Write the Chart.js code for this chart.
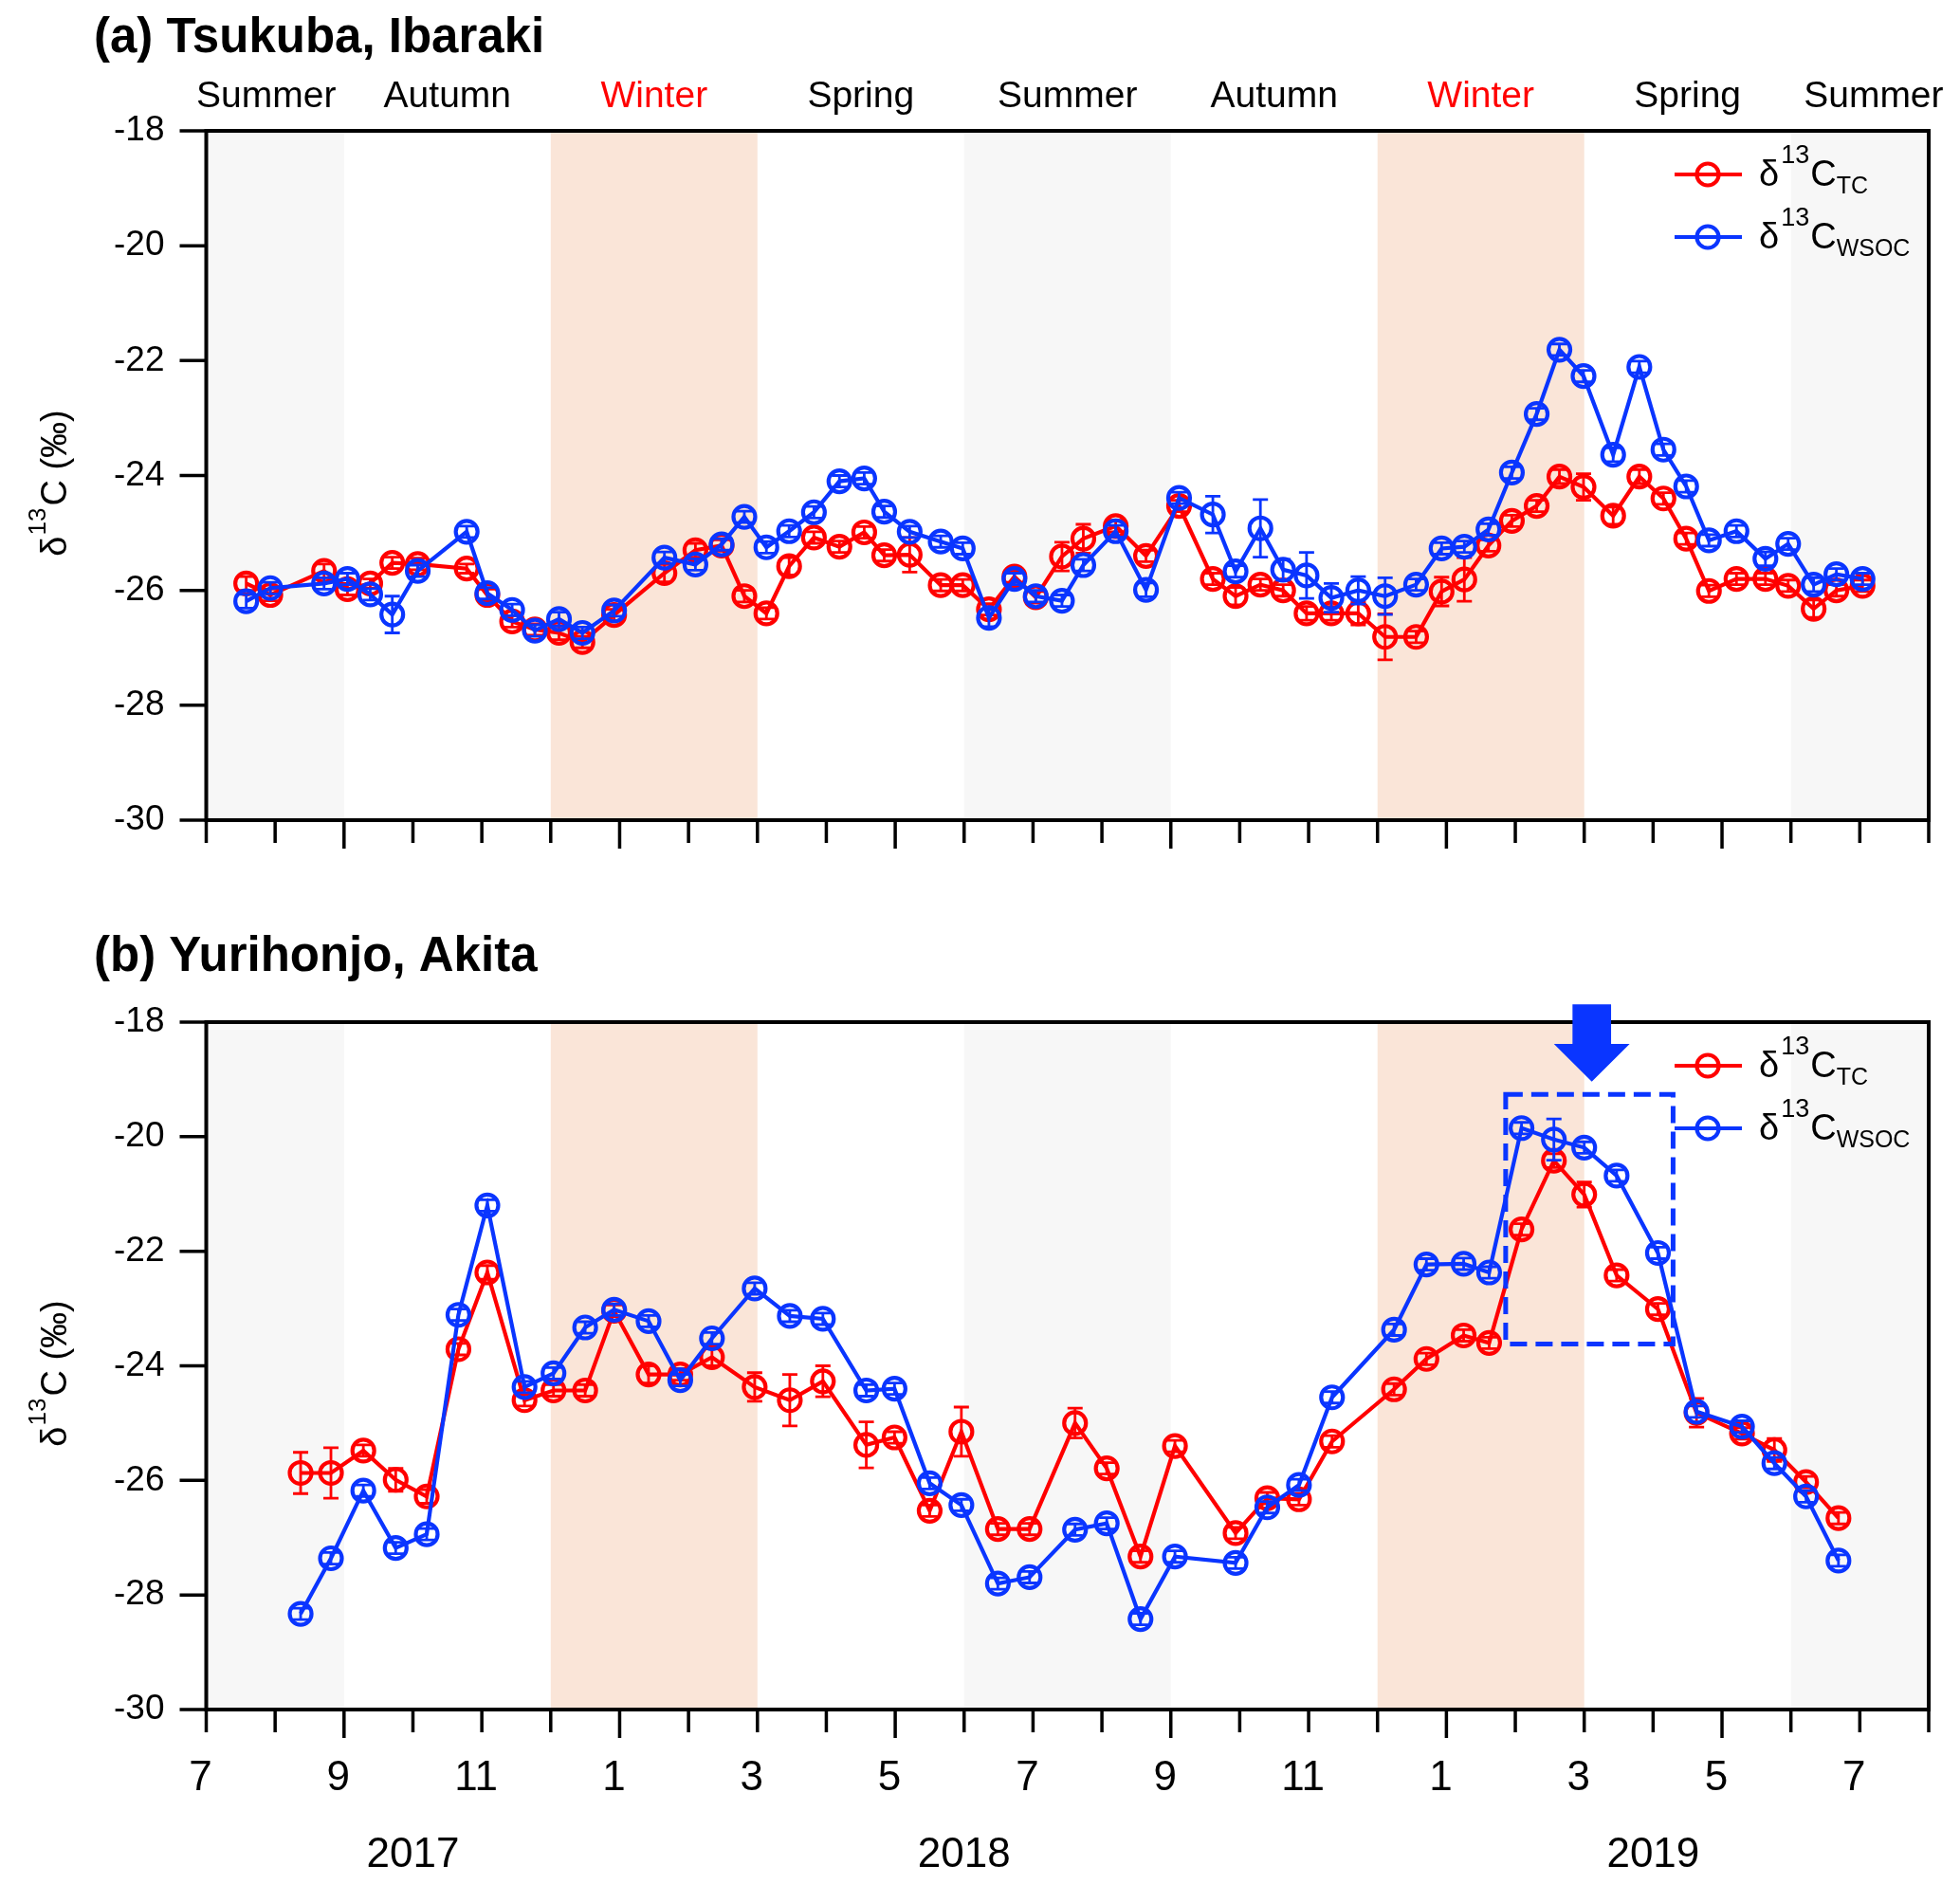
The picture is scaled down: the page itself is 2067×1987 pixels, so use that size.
<!DOCTYPE html>
<html>
<head>
<meta charset="utf-8">
<script src="https://cdn.jsdelivr.net/npm/chart.js@4.4.1/dist/chart.umd.min.js"></script>
<style>
html,body{margin:0;padding:0;background:#fff;}
#wrap{position:relative;width:2067px;height:1987px;background:#fff;}
canvas{position:absolute;left:0;}
#ca{top:0;}
#cb{top:940px;}
</style>
</head>
<body>
<div id="wrap">
<canvas id="ca" width="2067" height="940"></canvas>
<canvas id="cb" width="2067" height="1047"></canvas>
</div>
<script>
// ---------------- data ----------------
// x values are months counted from 1 July 2017 (0 = Jul 2017, 25 = Aug 2019)
const monthTickLabels = ['7','','9','','11','','1','','3','','5','','7','','9','','11','','1','','3','','5','','7',''];
const majorTickMonths = [2, 6, 10, 14, 18, 22];
const yearLabels = ['2017', '2018', '2019'];
const yearPositions = [3, 11, 21];

const seasonNames = ['Summer','Autumn','Winter','Spring','Summer','Autumn','Winter','Spring','Summer'];
const seasonLabelPositions = [0.87, 3.5, 6.5, 9.5, 12.5, 15.5, 18.5, 21.5, 24.2];
const seasonBandStart = [0, 5, 11, 17, 23];
const seasonBandEnd   = [2, 8, 14, 20, 25];
const seasonBandKind  = ['summer','winter','summer','winter','summer'];

const yTicks = [-30, -28, -26, -24, -22, -20, -18];

// (a) Tsukuba, Ibaraki
const monthsA = [0.58, 0.93, 1.71, 2.05, 2.38, 2.70, 3.07, 3.78, 4.08, 4.44, 4.77, 5.12, 5.46, 5.92, 6.65, 7.10, 7.48, 7.81, 8.13, 8.46, 8.82, 9.19, 9.55, 9.84, 10.21, 10.66, 10.98, 11.36, 11.73, 12.04, 12.42, 12.73, 13.20, 13.64, 14.12, 14.61, 14.94, 15.30, 15.63, 15.97, 16.33, 16.72, 17.11, 17.56, 17.93, 18.26, 18.61, 18.95, 19.31, 19.64, 19.99, 20.42, 20.80, 21.15, 21.48, 21.81, 22.21, 22.63, 22.96, 23.33, 23.66, 24.04];
const tcA = [-25.88, -26.08, -25.66, -25.98, -25.88, -25.52, -25.54, -25.62, -26.08, -26.54, -26.68, -26.74, -26.90, -26.43, -25.70, -25.30, -25.22, -26.10, -26.40, -25.58, -25.08, -25.24, -24.99, -25.39, -25.38, -25.91, -25.91, -26.33, -25.76, -26.12, -25.41, -25.10, -24.88, -25.40, -24.53, -25.80, -26.10, -25.90, -26.00, -26.40, -26.40, -26.40, -26.81, -26.81, -26.02, -25.81, -25.22, -24.79, -24.53, -24.02, -24.20, -24.70, -24.02, -24.40, -25.10, -26.01, -25.80, -25.80, -25.92, -26.32, -26.00, -25.92];
const tcErrA = [0.12, 0.10, 0.12, 0.10, 0.08, 0.10, 0.10, 0.08, 0.10, 0.10, 0.10, 0.12, 0.10, 0.10, 0.15, 0.12, 0.10, 0.10, 0.10, 0.15, 0.10, 0.10, 0.10, 0.10, 0.30, 0.10, 0.10, 0.10, 0.10, 0.10, 0.25, 0.25, 0.10, 0.10, 0.10, 0.10, 0.15, 0.10, 0.10, 0.12, 0.12, 0.20, 0.40, 0.10, 0.25, 0.38, 0.10, 0.10, 0.10, 0.12, 0.23, 0.15, 0.12, 0.10, 0.10, 0.10, 0.10, 0.10, 0.10, 0.15, 0.10, 0.10];
const wsocA = [-26.19, -25.96, -25.88, -25.80, -26.07, -26.42, -25.66, -24.98, -26.05, -26.34, -26.70, -26.50, -26.74, -26.35, -25.43, -25.55, -25.20, -24.72, -25.25, -24.97, -24.64, -24.10, -24.05, -24.63, -24.98, -25.15, -25.27, -26.48, -25.80, -26.10, -26.18, -25.56, -24.97, -25.99, -24.39, -24.68, -25.67, -24.92, -25.64, -25.74, -26.13, -26.00, -26.10, -25.90, -25.27, -25.24, -24.94, -23.95, -22.93, -21.81, -22.27, -23.64, -22.11, -23.55, -24.19, -25.13, -24.97, -25.45, -25.19, -25.90, -25.72, -25.80];
const wsocErrA = [0.12, 0.10, 0.10, 0.10, 0.10, 0.32, 0.10, 0.10, 0.10, 0.10, 0.10, 0.12, 0.10, 0.10, 0.10, 0.10, 0.10, 0.10, 0.10, 0.10, 0.10, 0.10, 0.10, 0.10, 0.10, 0.10, 0.10, 0.15, 0.10, 0.10, 0.10, 0.10, 0.10, 0.12, 0.10, 0.32, 0.10, 0.50, 0.18, 0.40, 0.25, 0.24, 0.32, 0.10, 0.10, 0.10, 0.10, 0.10, 0.10, 0.10, 0.10, 0.12, 0.10, 0.10, 0.10, 0.10, 0.10, 0.12, 0.10, 0.12, 0.10, 0.10];

// (b) Yurihonjo, Akita
const monthsB = [1.37, 1.81, 2.28, 2.75, 3.20, 3.66, 4.08, 4.62, 5.04, 5.50, 5.92, 6.42, 6.88, 7.34, 7.96, 8.47, 8.95, 9.58, 9.99, 10.50, 10.96, 11.49, 11.95, 12.61, 13.07, 13.56, 14.06, 14.94, 15.40, 15.86, 16.34, 17.24, 17.71, 18.25, 18.62, 19.09, 19.56, 20.00, 20.47, 21.07, 21.63, 22.29, 22.76, 23.22, 23.69];
const tcB = [-25.87, -25.87, -25.48, -25.99, -26.28, -23.71, -22.37, -24.60, -24.43, -24.43, -23.04, -24.15, -24.15, -23.85, -24.37, -24.60, -24.27, -25.38, -25.25, -26.53, -25.15, -26.85, -26.85, -25.00, -25.79, -27.33, -25.40, -26.92, -26.31, -26.33, -25.32, -24.41, -23.88, -23.47, -23.60, -21.62, -20.42, -21.01, -22.42, -23.01, -24.82, -25.18, -25.47, -26.03, -26.66];
const tcErrB = [0.36, 0.44, 0.10, 0.20, 0.12, 0.10, 0.12, 0.10, 0.10, 0.10, 0.10, 0.15, 0.10, 0.15, 0.25, 0.45, 0.27, 0.40, 0.10, 0.10, 0.43, 0.10, 0.10, 0.26, 0.10, 0.10, 0.10, 0.10, 0.10, 0.10, 0.10, 0.10, 0.10, 0.10, 0.10, 0.10, 0.12, 0.22, 0.10, 0.10, 0.25, 0.10, 0.20, 0.10, 0.10];
const wsocB = [-28.33, -27.36, -26.18, -27.18, -26.94, -23.11, -21.20, -24.37, -24.13, -23.33, -23.02, -23.22, -24.25, -23.52, -22.65, -23.13, -23.18, -24.43, -24.40, -26.05, -26.43, -27.80, -27.69, -26.86, -26.75, -28.42, -27.33, -27.44, -26.47, -26.08, -24.55, -23.37, -22.23, -22.22, -22.37, -19.85, -20.05, -20.19, -20.68, -22.03, -24.80, -25.06, -25.70, -26.28, -27.40];
const wsocErrB = [0.10, 0.10, 0.10, 0.10, 0.10, 0.10, 0.10, 0.10, 0.10, 0.10, 0.10, 0.10, 0.10, 0.10, 0.10, 0.10, 0.10, 0.10, 0.10, 0.10, 0.10, 0.10, 0.10, 0.10, 0.10, 0.10, 0.10, 0.10, 0.10, 0.10, 0.10, 0.10, 0.10, 0.10, 0.10, 0.10, 0.36, 0.10, 0.10, 0.10, 0.10, 0.10, 0.10, 0.10, 0.10];

// highlight in (b): dashed box (months / per-mil) and arrow
const highlightBoxMonths = [18.86, 21.29];
const highlightBoxValues = [-19.26, -23.62];
const arrowMonth = 20.11;
const arrowValues = [-17.69, -18.38, -19.04]; // top of shaft, neck, tip

// ---------------- styling ----------------
const FONT = "'Liberation Sans', Arial, Helvetica, sans-serif";
const RED = '#ff0000';
const BLUE = '#0a35ff';
const BAND_COLORS = { summer: '#f7f7f7', winter: '#fae5d8' };

function toXY(xs, ys) { return xs.map((x, i) => ({ x: x, y: ys[i] })); }

function seriesDataset(label, xs, ys, errs, color, order) {
  return {
    label: label,
    data: toXY(xs, ys),
    errorBars: errs,
    borderColor: color,
    backgroundColor: 'transparent',
    pointBackgroundColor: 'transparent',
    pointBorderColor: color,
    pointRadius: 11.5,
    pointHoverRadius: 11.5,
    pointBorderWidth: 4.2,
    borderWidth: 4.2,
    tension: 0,
    fill: false,
    order: order
  };
}

function drawDeltaLabel(ctx, x, y, sub, big, small) {
  ctx.textAlign = 'left';
  ctx.textBaseline = 'alphabetic';
  ctx.font = big + 'px ' + FONT;
  ctx.fillText('\u03B4', x, y);
  let cx = x + ctx.measureText('\u03B4').width + 2;
  ctx.font = small + 'px ' + FONT;
  ctx.fillText('13', cx, y - big * 0.62);
  cx += ctx.measureText('13').width + 1;
  ctx.font = big + 'px ' + FONT;
  ctx.fillText('C', cx, y);
  cx += ctx.measureText('C').width;
  if (sub) {
    ctx.font = (small - 2) + 'px ' + FONT;
    ctx.fillText(sub, cx, y + big * 0.2);
  }
}

function makePanelPlugin(cfg) {
  return {
    id: 'panel_' + cfg.key,
    beforeDraw(chart) {
      const { ctx, chartArea: a, scales: { x } } = chart;
      ctx.save();
      for (let i = 0; i < seasonBandStart.length; i++) {
        const x1 = x.getPixelForValue(seasonBandStart[i]);
        const x2 = x.getPixelForValue(seasonBandEnd[i]);
        ctx.fillStyle = BAND_COLORS[seasonBandKind[i]];
        ctx.fillRect(x1, a.top, x2 - x1, a.bottom - a.top);
      }
      ctx.restore();
    },
    afterDatasetDraw(chart, args) {
      const ds = chart.data.datasets[args.index];
      if (!ds.errorBars) return;
      const { ctx, scales: { x, y } } = chart;
      ctx.save();
      ctx.strokeStyle = ds.borderColor;
      ctx.lineWidth = 2.8;
      const cap = 8;
      ds.data.forEach((p, i) => {
        const e = ds.errorBars[i];
        const px = x.getPixelForValue(p.x);
        const y1 = y.getPixelForValue(p.y + e);
        const y2 = y.getPixelForValue(p.y - e);
        ctx.beginPath();
        ctx.moveTo(px, y1); ctx.lineTo(px, y2);
        ctx.moveTo(px - cap, y1); ctx.lineTo(px + cap, y1);
        ctx.moveTo(px - cap, y2); ctx.lineTo(px + cap, y2);
        ctx.stroke();
      });
      ctx.restore();
    },
    afterDraw(chart) {
      const { ctx, chartArea: a, scales: { x, y } } = chart;
      ctx.save();
      // tick marks
      ctx.strokeStyle = '#000';
      ctx.lineWidth = 3.5;
      ctx.beginPath();
      for (let m = 0; m <= 25; m++) {
        const px = x.getPixelForValue(m);
        const len = majorTickMonths.includes(m) ? 30 : 24;
        ctx.moveTo(px, a.bottom); ctx.lineTo(px, a.bottom + len);
      }
      yTicks.forEach(v => {
        const py = y.getPixelForValue(v);
        ctx.moveTo(a.left - 28, py); ctx.lineTo(a.left, py);
      });
      ctx.stroke();
      // frame
      ctx.lineWidth = 4;
      ctx.strokeRect(a.left, a.top, a.right - a.left, a.bottom - a.top);

      // panel title
      ctx.fillStyle = '#000';
      ctx.font = 'bold 51px ' + FONT;
      ctx.textAlign = 'left';
      ctx.textBaseline = 'alphabetic';
      ctx.fillText(cfg.title, 99, cfg.titleBaseline);

      // season labels
      if (cfg.seasons) {
        ctx.font = '39px ' + FONT;
        ctx.textAlign = 'center';
        seasonNames.forEach((s, i) => {
          ctx.fillStyle = s === 'Winter' ? '#ff0000' : '#000';
          ctx.fillText(s, x.getPixelForValue(seasonLabelPositions[i]), 113);
        });
      }

      // year labels
      if (cfg.years) {
        ctx.fillStyle = '#000';
        ctx.font = '44px ' + FONT;
        ctx.textAlign = 'center';
        yearLabels.forEach((t, i) => {
          ctx.fillText(t, x.getPixelForValue(yearPositions[i]), cfg.yearBaseline);
        });
      }

      // y axis title (rotated)
      ctx.save();
      ctx.translate(70, (a.top + a.bottom) / 2 + 8);
      ctx.rotate(-Math.PI / 2);
      ctx.fillStyle = '#000';
      ctx.font = '38px ' + FONT;
      const w1 = ctx.measureText('\u03B4').width;
      ctx.font = '26px ' + FONT;
      const w2 = ctx.measureText('13').width;
      ctx.font = '38px ' + FONT;
      const w3 = ctx.measureText('C (\u2030)').width;
      let sx = -(w1 + w2 + w3 + 3) / 2;
      ctx.textAlign = 'left';
      ctx.fillText('\u03B4', sx, 0);
      sx += w1 + 1;
      ctx.font = '26px ' + FONT;
      ctx.fillText('13', sx, -22);
      sx += w2 + 2;
      ctx.font = '38px ' + FONT;
      ctx.fillText('C (\u2030)', sx, 0);
      ctx.restore();

      // legend
      const entries = [
        { color: RED, sub: 'TC', dy: 46 },
        { color: BLUE, sub: 'WSOC', dy: 112 }
      ];
      entries.forEach(en => {
        const ly = a.top + en.dy;
        ctx.strokeStyle = en.color;
        ctx.lineWidth = 4.2;
        ctx.beginPath();
        ctx.moveTo(a.right - 268, ly); ctx.lineTo(a.right - 197, ly);
        ctx.stroke();
        ctx.beginPath();
        ctx.arc(a.right - 233, ly, 11.5, 0, Math.PI * 2);
        ctx.stroke();
        ctx.fillStyle = '#000';
        drawDeltaLabel(ctx, a.right - 179, ly + 12, en.sub, 38, 27);
      });

      // highlight box and arrow
      if (cfg.highlight) {
        const bx1 = x.getPixelForValue(highlightBoxMonths[0]);
        const bx2 = x.getPixelForValue(highlightBoxMonths[1]);
        const by1 = y.getPixelForValue(highlightBoxValues[0]);
        const by2 = y.getPixelForValue(highlightBoxValues[1]);
        ctx.strokeStyle = BLUE;
        ctx.lineWidth = 5;
        ctx.setLineDash([18, 9]);
        ctx.strokeRect(bx1, by1, bx2 - bx1, by2 - by1);
        ctx.setLineDash([]);
        const ax = x.getPixelForValue(arrowMonth);
        const mw = x.getPixelForValue(1) - x.getPixelForValue(0);
        const yTop = y.getPixelForValue(arrowValues[0]);
        const yNeck = y.getPixelForValue(arrowValues[1]);
        const yTip = y.getPixelForValue(arrowValues[2]);
        const sw = 0.28 * mw, hw = 0.55 * mw;
        ctx.fillStyle = BLUE;
        ctx.beginPath();
        ctx.moveTo(ax - sw, yTop);
        ctx.lineTo(ax + sw, yTop);
        ctx.lineTo(ax + sw, yNeck);
        ctx.lineTo(ax + hw, yNeck);
        ctx.lineTo(ax, yTip);
        ctx.lineTo(ax - hw, yNeck);
        ctx.lineTo(ax - sw, yNeck);
        ctx.closePath();
        ctx.fill();
      }
      ctx.restore();
    }
  };
}

function makeChart(canvasId, months, tc, tcErr, wsoc, wsocErr, cfg) {
  const ctx = document.getElementById(canvasId).getContext('2d');
  return new Chart(ctx, {
    type: 'line',
    data: {
      datasets: [
        seriesDataset('\u03B413C TC', months, tc, tcErr, RED, 2),
        seriesDataset('\u03B413C WSOC', months, wsoc, wsocErr, BLUE, 1)
      ]
    },
    options: {
      responsive: false,
      maintainAspectRatio: false,
      devicePixelRatio: 1,
      animation: false,
      events: [],
      layout: { padding: { left: 0, top: 138, right: 33, bottom: 0 } },
      plugins: { legend: { display: false }, tooltip: { enabled: false }, title: { display: false } },
      scales: {
        x: {
          type: 'linear',
          min: 0, max: 25,
          grid: { display: false, drawTicks: false },
          border: { display: false },
          afterFit(scale) {
            scale.height = cfg.xAxisHeight;
            scale.paddingLeft = 0;
            scale.paddingRight = 0;
          },
          ticks: {
            display: cfg.xLabels,
            stepSize: 1,
            autoSkip: false,
            maxRotation: 0,
            padding: cfg.xPad,
            labelOffset: -6,
            color: '#000',
            font: { family: FONT, size: 44 },
            callback: (v) => monthTickLabels[Math.round(v)]
          }
        },
        y: {
          type: 'linear',
          min: -30, max: -18,
          grid: { display: false, drawTicks: false },
          border: { display: false },
          afterFit(scale) {
            scale.width = 217.5;
            scale.paddingTop = 0;
            scale.paddingBottom = 0;
          },
          ticks: {
            stepSize: 2,
            padding: 44,
            color: '#000',
            font: { family: FONT, size: 37 }
          }
        }
      }
    },
    plugins: [makePanelPlugin(cfg)]
  });
}

makeChart('ca', monthsA, tcA, tcErrA, wsocA, wsocErrA, {
  key: 'a', title: '(a) Tsukuba, Ibaraki', titleBaseline: 55, seasons: true,
  years: false, xLabels: false, xAxisHeight: 75, xPad: 40, highlight: false
});
makeChart('cb', monthsB, tcB, tcErrB, wsocB, wsocErrB, {
  key: 'b', title: '(b) Yurihonjo, Akita', titleBaseline: 84, seasons: false,
  years: true, yearBaseline: 1029, xLabels: true, xAxisHeight: 184, xPad: 46, highlight: true
});
</script>
</body>
</html>
